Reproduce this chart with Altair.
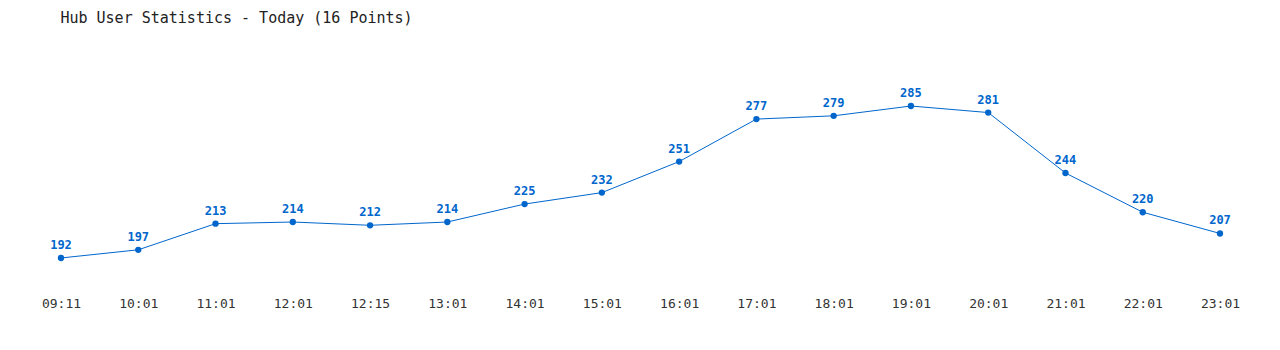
import altair as alt
import pandas as pd

times = ["09:11", "10:01", "11:01", "12:01", "12:15", "13:01", "14:01", "15:01",
         "16:01", "17:01", "18:01", "19:01", "20:01", "21:01", "22:01", "23:01"]
users = [192, 197, 213, 214, 212, 214, 225, 232, 251, 277, 279, 285, 281, 244, 220, 207]

df = pd.DataFrame({"time": times, "users": users})

BLUE = "#0066cc"
FONT = "DejaVu Sans Mono"

x = alt.X("time:N", sort=times, scale=alt.Scale(type="point", padding=0),
          axis=alt.Axis(title=None, domain=False, ticks=False, grid=False,
                        labelAngle=0, labelFont=FONT, labelFontSize=13,
                        labelColor="#333333", labelPadding=7))
y = alt.Y("users:Q", scale=alt.Scale(domain=[172.4, 325.4], nice=False, zero=False),
          axis=None)

base = alt.Chart(df).encode(x=x, y=y)
line = base.mark_line(color=BLUE, strokeWidth=1)
pts = base.mark_point(filled=True, color=BLUE, size=40, opacity=1)
labels = base.mark_text(color=BLUE, font=FONT, fontSize=12, fontWeight="bold",
                        baseline="bottom", dy=-6).encode(text="users:Q")

chart = (line + pts + labels).properties(
    width=1159, height=250,
    title=alt.TitleParams("Hub User Statistics - Today (16 Points)", anchor="start",
                          font=FONT, fontSize=15, fontWeight="normal", color="#222222",
                          offset=14, dx=19),
    autosize=alt.AutoSizeParams(type="none"),
    padding={"left": 61, "top": 40, "right": 60, "bottom": 60},
).configure_view(stroke=None)

chart.save("out.html", embed_options={"renderer": "svg", "actions": False})
